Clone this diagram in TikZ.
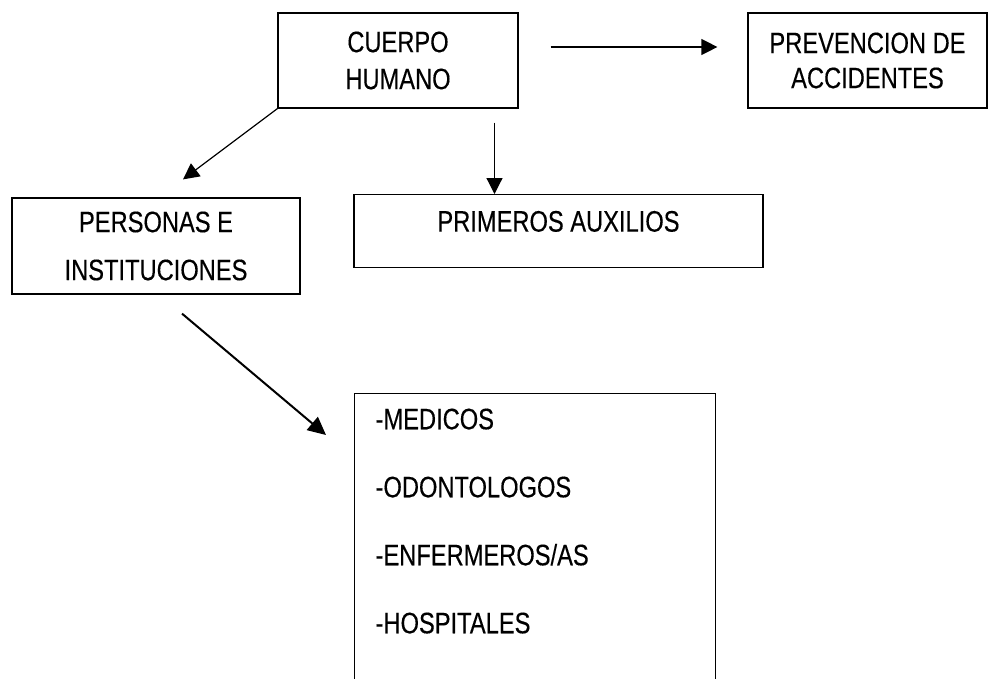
\documentclass[tikz,border=0pt]{standalone}
\usepackage{fontspec}
\setmainfont[FakeStretch=0.8,FakeBold=0.3]{Liberation Sans}
\usetikzlibrary{arrows.meta}

\tikzset{
  caja/.style={draw, line width=1.2pt, inner sep=0pt, align=center},
  flecha/.style={line width=1.2pt, -{Triangle[length=16pt,width=16pt]}},
}

\begin{document}
\begin{tikzpicture}[x=1pt, y=-1pt]
  % Page size
  \useasboundingbox (0,0) rectangle (988,678);

  % Boxes
  \node[caja, minimum width=240pt, minimum height=95pt,
    font={\fontsize{29.6pt}{37pt}\selectfont}] (cuerpo) at (398,60.5) {CUERPO\\HUMANO};
  \node[caja, minimum width=239pt, minimum height=95pt,
    font={\fontsize{29.6pt}{35pt}\selectfont}] (prevencion) at (867.5,60.5) {PREVENCION DE\\ACCIDENTES};
  \node[caja, minimum width=288pt, minimum height=96pt,
    font={\fontsize{29.6pt}{48pt}\selectfont}] (personas) at (156,246) {PERSONAS E\\INSTITUCIONES};
  \node[caja, anchor=north, minimum width=409pt, text height=37pt, text depth=36pt,
    font={\fontsize{29.6pt}{35pt}\selectfont}] (primeros) at (558.5,194) {PRIMEROS AUXILIOS};
  \node[caja, anchor=north west, align=left, text width=319pt, inner xsep=21pt, inner ysep=15pt,
    font={\fontsize{29.6pt}{68pt}\selectfont}] (lista) at (354,393)
    {-MEDICOS\\-ODONTOLOGOS\\-ENFERMEROS/AS\\-HOSPITALES\\\mbox{}};

  % Arrows
  \draw[flecha] ([xshift=32pt,yshift=13.5pt]cuerpo.east) -- ([xshift=-30pt,yshift=13.5pt]prevencion.west);
  \draw[flecha] (cuerpo.south west) -- ([xshift=27pt,yshift=18pt]personas.north);
  \coordinate (bajo) at ([xshift=96.5pt,yshift=-14pt]cuerpo.south);
  \draw[flecha] (bajo) -- (bajo |- primeros.north);
  \draw[line width=2pt, -{Triangle[length=18pt,width=17pt]}] ([xshift=26pt,yshift=-19pt]personas.south)
    -- ([xshift=-28pt,yshift=-42pt]lista.north west);
\end{tikzpicture}
\end{document}
